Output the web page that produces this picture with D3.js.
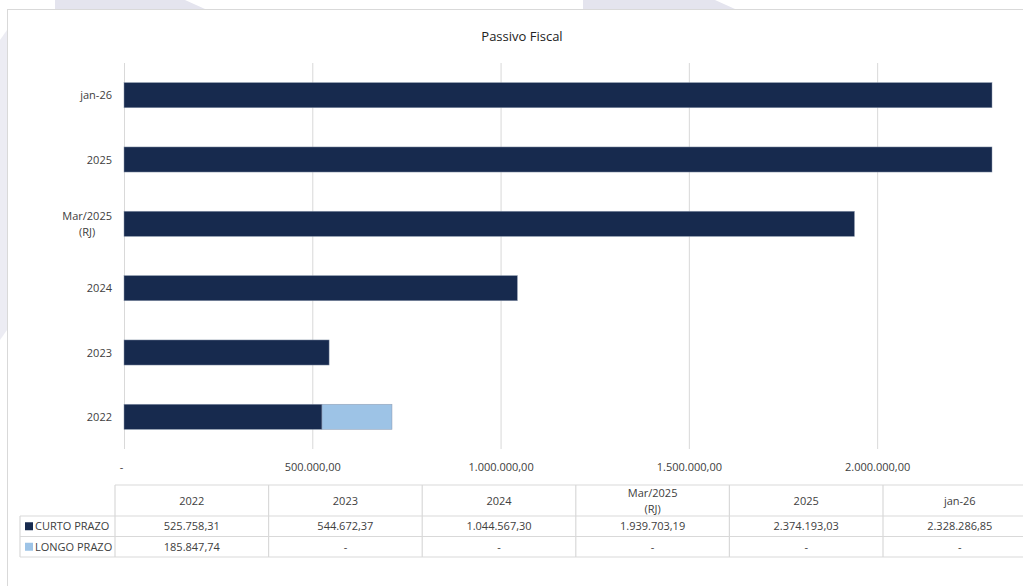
<!DOCTYPE html>
<html lang="pt">
<head>
<meta charset="utf-8">
<title>Passivo Fiscal</title>
<style>
html, body {
	margin: 0;
	padding: 0;
	background: #fff;
}
* {
	font-family: "Open Sans", "DejaVu Sans", sans-serif;
}
</style>
<script src="https://cdn.jsdelivr.net/npm/d3@7/dist/d3.min.js"></script>
</head>
<body>
<div id="chart"></div>
<script>
// categories as shown bottom -> top on the chart, left -> right in the table
var categories = ["2022", "2023", "2024", "Mar/2025\n(RJ)", "2025", "jan-26"];
var curtoPrazo = [525758.31, 544672.37, 1044567.30, 1939703.19, 2374193.03, 2328286.85];
var longoPrazo = [185847.74, 0, 0, 0, 0, 0];
var seriesNames = ["CURTO PRAZO", "LONGO PRAZO"];
var seriesColors = ["#172a4e", "#9dc3e6"];
var xTicks = [0, 500000, 1000000, 1500000, 2000000];
var xMax = 2305000;   // axis max in the source, longer bars get cut off

var W = 1023, H = 586;
var plot = {left: 124, right: 992, top: 63, bottom: 449};
var table = {left: 115, colW: 153.6, top: 485, headH: 31, rowH: 20.5, legendLeft: 20};

var fmt = d3.formatLocale({decimal: ",", thousands: ".", grouping: [3], currency: ["", ""]});
var numFmt = function(v) { return v === 0 ? "-" : fmt.format(",.2f")(v); };

var svg = d3.select("#chart").append("svg")
	.attr("width", W)
	.attr("height", H);

// faint watermark shapes behind the frame
var wm = svg.append("g").attr("fill", "#e4e4ee");
wm.append("path").attr("d", "M55,0 L185,0 L205,9 L55,9 Z");
wm.append("path").attr("d", "M583,0 L715,0 L735,9 L583,9 Z");
wm.append("path").attr("d", "M0,40 L7,30 L7,330 L0,340 Z").attr("opacity", 0.7);

// chart frame
svg.append("rect")
	.attr("x", 7.5).attr("y", 9.5)
	.attr("width", W).attr("height", H)
	.attr("fill", "#fff")
	.attr("stroke", "#d9d9d9");

svg.append("text")
	.attr("x", 522).attr("y", 41)
	.attr("text-anchor", "middle")
	.attr("font-size", 13)
	.attr("fill", "#222")
	.text("Passivo Fiscal");

var x = d3.scaleLinear().domain([0, xMax]).range([plot.left, plot.right]).clamp(true);
var y = d3.scaleBand().domain(categories.slice().reverse()).range([plot.top, plot.bottom]).paddingInner(0.61).paddingOuter(0.305);

// gridlines + tick labels
var xAxis = d3.axisBottom(x)
	.tickValues(xTicks)
	.tickSize(-(plot.bottom - plot.top))
	.tickFormat(function(d) { return d === 0 ? "-" : fmt.format(",.2f")(d); });

var gx = svg.append("g")
	.attr("transform", "translate(0," + plot.bottom + ")")
	.call(xAxis);
gx.select(".domain").remove();
gx.selectAll(".tick line").attr("stroke", "#d9d9d9");
gx.selectAll(".tick text")
	.attr("dy", 0)
	.attr("y", 22)
	.attr("font-size", 11)
	.attr("fill", "#404040")
	.attr("font-family", "Open Sans");
gx.selectAll(".tick").filter(function(d) { return d === 0; }).select("text").attr("dx", -3);

// stacked bars
var stackData = categories.map(function(c, i) {
	return {cat: c, curto: curtoPrazo[i], longo: longoPrazo[i]};
});
var stack = d3.stack().keys(["curto", "longo"])(stackData);

svg.append("g").selectAll("g")
	.data(stack)
	.enter()
	.append("g")
		.attr("fill", function(d, i) { return seriesColors[i]; })
	.selectAll("rect")
	.data(function(d) { return d; })
	.enter()
	.append("rect")
		.attr("x", function(d) { return x(d[0]); })
		.attr("y", function(d) { return y(d.data.cat); })
		.attr("width", function(d) { return x(d[1]) - x(d[0]); })
		.attr("height", y.bandwidth())
		.attr("stroke", "#8a96ab")
		.attr("stroke-width", 0.6)
		.attr("stroke-opacity", function(d) { return d[1] > d[0] ? 0.8 : 0; });

// category labels, multi-line ones centred as a block, block right aligned
var labG = svg.append("g");
categories.forEach(function(c) {
	var lines = c.split("\n");
	var t = labG.append("text")
		.attr("font-size", 11)
		.attr("fill", "#404040")
		.attr("text-anchor", "middle");
	lines.forEach(function(l, k) {
		t.append("tspan").text(l);
	});
	var maxW = 0;
	t.selectAll("tspan").each(function() { maxW = Math.max(maxW, this.getComputedTextLength()); });
	var cx = 112 - maxW / 2;
	var cy = y(c) + y.bandwidth() / 2 + 4 - (lines.length - 1) * 8;
	t.selectAll("tspan")
		.attr("x", cx)
		.attr("y", function(d, k) { return cy + k * 16; });
});

// data table
var tg = svg.append("g").attr("font-size", 11).attr("fill", "#404040");
var lineCol = "#d9d9d9";
var tRight = table.left + table.colW * categories.length;
var rowTop1 = table.top + table.headH;
var rowTop2 = rowTop1 + table.rowH;
var rowBot = rowTop2 + table.rowH;

function hline(x1, x2, yy) {
	tg.append("line").attr("x1", x1).attr("x2", x2).attr("y1", yy).attr("y2", yy)
		.attr("stroke", lineCol).attr("stroke-width", 1.2);
}
function vline(xx, y1, y2) {
	tg.append("line").attr("x1", xx).attr("x2", xx).attr("y1", y1).attr("y2", y2)
		.attr("stroke", lineCol).attr("stroke-width", 1.2);
}
hline(table.left, tRight, table.top);
hline(table.legendLeft, tRight, rowTop1);
hline(table.legendLeft, tRight, rowTop2);
hline(table.legendLeft, tRight, rowBot);
vline(table.legendLeft, rowTop1, rowBot);
for (var i = 0; i <= categories.length; i++) {
	vline(table.left + i * table.colW, table.top, rowBot);
}

categories.forEach(function(c, i) {
	var cx = table.left + table.colW * (i + 0.5);
	var lines = c.split("\n");
	var t = tg.append("text").attr("text-anchor", "middle");
	lines.forEach(function(l, k) {
		t.append("tspan")
			.attr("x", cx)
			.attr("y", table.top + table.headH / 2 + 4 - (lines.length - 1) * 7.5 + k * 15.5)
			.text(l);
	});
	tg.append("text").attr("text-anchor", "middle")
		.attr("x", cx).attr("y", rowTop1 + table.rowH / 2 + 4)
		.text(numFmt(curtoPrazo[i]));
	tg.append("text").attr("text-anchor", "middle")
		.attr("x", cx).attr("y", rowTop2 + table.rowH / 2 + 4)
		.text(numFmt(longoPrazo[i]));
});

seriesNames.forEach(function(s, k) {
	var top = k === 0 ? rowTop1 : rowTop2;
	tg.append("rect")
		.attr("x", 25).attr("y", top + table.rowH / 2 - 4)
		.attr("width", 8).attr("height", 8)
		.attr("fill", seriesColors[k]);
	tg.append("text")
		.attr("x", 35).attr("y", top + table.rowH / 2 + 4)
		.text(s);
});
</script>
</body>
</html>
